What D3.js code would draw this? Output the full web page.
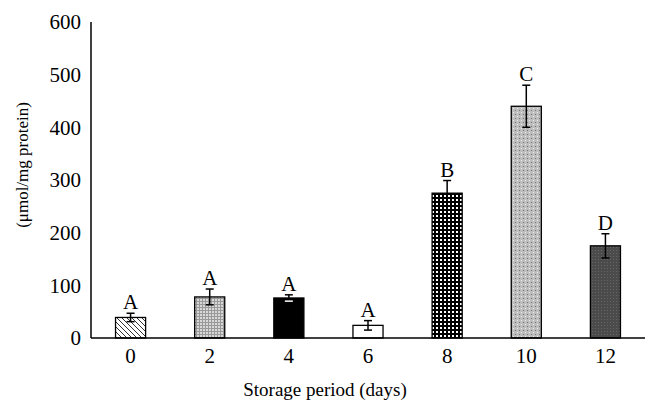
<!DOCTYPE html>
<html>
<head>
<meta charset="utf-8">
<script src="https://cdn.jsdelivr.net/npm/d3@7"></script>
<style>
  body { margin: 0; background: #fff; }
  text { font-family: "Liberation Serif", "DejaVu Serif", serif; fill: #000; }
</style>
</head>
<body>
<svg class="chart"></svg>
<script>
// values
var days = ["0", "2", "4", "6", "8", "10", "12"];
var values = [39, 78, 76, 24, 275, 440, 175];
var errors = [8, 15, 6, 9, 24, 40, 23];
var letters = ["A", "A", "A", "A", "B", "C", "D"];
var fills = ["url(#hatch)", "url(#grid)", "#000", "#fff", "url(#checker)", "url(#dots)", "url(#dark)"];
var yTicks = [0, 100, 200, 300, 400, 500, 600];

var width = 655, height = 412;
var margin = {top: 22, right: 10, bottom: 74, left: 91};
var chartWidth = width - margin.left - margin.right;
var chartHeight = height - margin.top - margin.bottom;

var svg = d3.select(".chart").attr("width", width).attr("height", height);

// patterns
var defs = svg.append("defs");
var p = defs.append("pattern").attr("id", "hatch").attr("patternUnits", "userSpaceOnUse").attr("width", 5).attr("height", 5);
p.append("rect").attr("width", 5).attr("height", 5).attr("fill", "#fff");
p.append("path").attr("d", "M-1,-1 L6,6 M-1,4 L1,6 M4,-1 L6,1").attr("stroke", "#333").attr("stroke-width", 1);

p = defs.append("pattern").attr("id", "grid").attr("patternUnits", "userSpaceOnUse").attr("width", 3).attr("height", 3);
p.append("rect").attr("width", 3).attr("height", 3).attr("fill", "#d8d8d8");
p.append("path").attr("d", "M0,0.5 H3 M0.5,0 V3").attr("stroke", "#999").attr("stroke-width", 1);

p = defs.append("pattern").attr("id", "checker").attr("patternUnits", "userSpaceOnUse").attr("width", 4).attr("height", 4);
p.append("rect").attr("width", 4).attr("height", 4).attr("fill", "#000");
p.append("rect").attr("x", 1).attr("y", 1).attr("width", 2).attr("height", 2).attr("fill", "#fff");

p = defs.append("pattern").attr("id", "dots").attr("patternUnits", "userSpaceOnUse").attr("width", 4).attr("height", 4);
p.append("rect").attr("width", 4).attr("height", 4).attr("fill", "#bdbdbd");
p.append("rect").attr("width", 1).attr("height", 1).attr("fill", "#777");
p.append("rect").attr("x", 2).attr("y", 2).attr("width", 1).attr("height", 1).attr("fill", "#eee");

p = defs.append("pattern").attr("id", "dark").attr("patternUnits", "userSpaceOnUse").attr("width", 3).attr("height", 3);
p.append("rect").attr("width", 3).attr("height", 3).attr("fill", "#4b4b4b");
p.append("rect").attr("width", 1).attr("height", 1).attr("fill", "#666");

var chart = svg.append("g").attr("transform", "translate(" + margin.left + "," + margin.top + ")");

var x = d3.scaleBand().domain(days).range([0, chartWidth]).paddingInner(0.62).paddingOuter(0.31);
var y = d3.scaleLinear().domain([0, 600]).range([chartHeight, 0]);

var data = days.map(function(d, i) {
  return {day: d, v: values[i], e: errors[i], l: letters[i], f: fills[i]};
});

// bars
chart.selectAll(".bar").data(data).enter().append("rect")
  .attr("class", "bar")
  .attr("x", function(d) { return x(d.day); })
  .attr("y", function(d) { return y(d.v); })
  .attr("width", x.bandwidth())
  .attr("height", function(d) { return chartHeight - y(d.v); })
  .attr("fill", function(d) { return d.f; })
  .attr("stroke", "#000")
  .attr("stroke-width", 1.3);

// error bars
var eb = chart.selectAll(".err").data(data).enter().append("g").attr("class", "err")
  .attr("transform", function(d) { return "translate(" + (x(d.day) + x.bandwidth() / 2) + ",0)"; });
eb.append("line").attr("y1", function(d) { return y(d.v + d.e); }).attr("y2", function(d) { return y(d.v - d.e); })
  .attr("stroke", "#000").attr("stroke-width", 1.5);
eb.append("line").attr("x1", -4).attr("x2", 4).attr("y1", function(d) { return y(d.v + d.e); }).attr("y2", function(d) { return y(d.v + d.e); })
  .attr("stroke", "#000").attr("stroke-width", 1.5);
eb.append("line").attr("x1", -4).attr("x2", 4).attr("y1", function(d) { return y(d.v - d.e); }).attr("y2", function(d) { return y(d.v - d.e); })
  .attr("stroke", function(d) { return d.day == "4" ? "#fff" : "#000"; }).attr("stroke-width", 1.5);
eb.append("text")
  .attr("y", function(d) { return y(d.v + d.e) - 4; })
  .attr("text-anchor", "middle")
  .style("font-size", "21px")
  .text(function(d) { return d.l; });

//Add x-axis
var xAxis = chart.append("g")
  .attr("transform", "translate(0," + chartHeight + ")")
  .call(d3.axisBottom(x).tickSize(0).tickPadding(10));
xAxis.select(".domain").attr("d", "M0,0H" + chartWidth).attr("stroke-width", 1.5);
xAxis.selectAll("text").style("font-size", "21px").style("font-family", "Liberation Serif");

//Add y-axis
var yAxis = chart.append("g")
  .call(d3.axisLeft(y).tickValues(yTicks).tickSize(0).tickPadding(10));
yAxis.select(".domain").attr("d", "M0,0V" + chartHeight).attr("stroke-width", 1.5);
yAxis.selectAll("text").style("font-size", "21px").style("font-family", "Liberation Serif");

// axis titles
svg.append("text")
  .attr("transform", "translate(28,165) rotate(-90)")
  .style("text-anchor", "middle")
  .style("font-size", "17px")
  .text("(\u03BCmol/mg protein)");

svg.append("text")
  .attr("x", 325)
  .attr("y", 396)
  .style("text-anchor", "middle")
  .style("font-size", "19px")
  .text("Storage period (days)");
</script>
</body>
</html>
